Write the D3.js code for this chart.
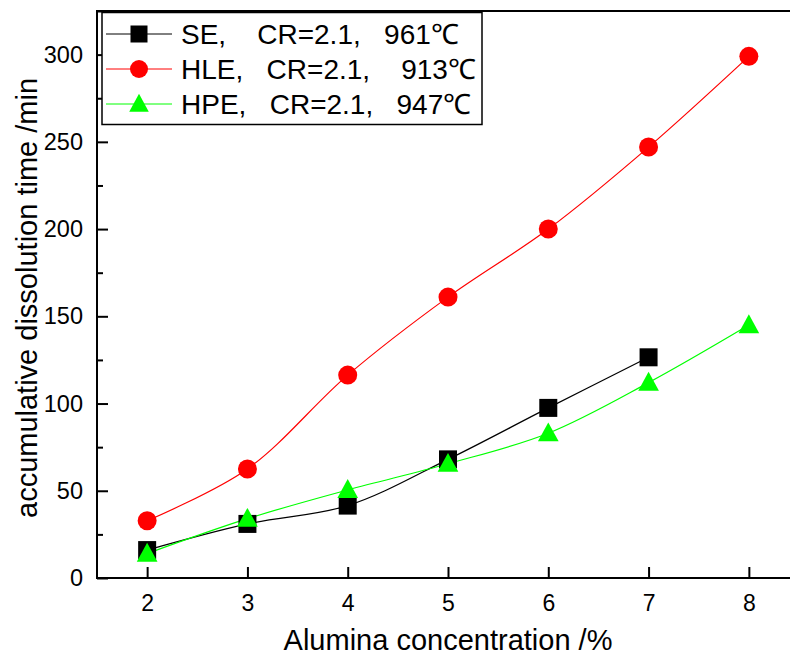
<!DOCTYPE html>
<html><head><meta charset="utf-8">
<script src="https://cdn.jsdelivr.net/npm/d3@7"></script>
<style>body{margin:0;background:#fff}svg{display:block}text{font-family:Arial,"Liberation Sans",sans-serif}</style>
</head><body>
<svg id="c" width="790" height="659"></svg>
<script>
const xValues = [2, 3, 4, 5, 6, 7, 8];
const seValues = [16, 31, 41.5, 68, 97.5, 126.5];
const hleValues = [32.8, 62.5, 116.3, 161, 200, 247, 299];
const hpeValues = [14, 34, 50.5, 65.5, 83, 112, 145];
const xTicks = [2, 3, 4, 5, 6, 7, 8];
const yTicks = [0, 50, 100, 150, 200, 250, 300];
const yMinorTicks = [25, 75, 125, 175, 225, 275, 325];
const seriesNames = ["SE,    CR=2.1,   961\u2103", "HLE,   CR=2.1,    913\u2103", "HPE,   CR=2.1,   947\u2103"];

const svg = d3.select("#c");
const L = 97, T = 11, B = 578, R = 799;
const x = d3.scaleLinear().domain([1.5, 8.5]).range([L, R]);
const y = d3.scaleLinear().domain([0, 325]).range([B, T]);

const series = [
  {name: seriesNames[0], vals: seValues, color: "#000000", shape: "square"},
  {name: seriesNames[1], vals: hleValues, color: "#ff0000", shape: "circle"},
  {name: seriesNames[2], vals: hpeValues, color: "#00ff00", shape: "triangle"}
];

// axes
const xAxis = d3.axisBottom(x).tickValues(xTicks).tickSize(-11).tickPadding(17).tickFormat(d3.format("d"));
const gx = svg.append("g").attr("transform", `translate(0,${B})`).call(xAxis);
gx.select(".domain").remove();
gx.selectAll(".tick line").attr("stroke", "#000").attr("stroke-width", 2);
gx.selectAll(".tick text").attr("font-size", 23).attr("fill", "#000");

const yAxis = d3.axisLeft(y).tickValues(yTicks).tickSize(-11).tickPadding(14).tickFormat(d3.format("d"));
const gy = svg.append("g").attr("transform", `translate(${L},0)`).call(yAxis);
gy.select(".domain").remove();
gy.selectAll(".tick line").attr("stroke", "#000").attr("stroke-width", 2);
gy.selectAll(".tick text").attr("font-size", 23.5).attr("fill", "#000");

const yMinor = d3.axisLeft(y).tickValues(yMinorTicks).tickSize(-6).tickFormat("");
const gym = svg.append("g").attr("transform", `translate(${L},0)`).call(yMinor);
gym.select(".domain").remove();
gym.selectAll(".tick line").attr("stroke", "#000").attr("stroke-width", 2);

// frame
svg.append("rect").attr("x", L).attr("y", T).attr("width", R - L).attr("height", B - T)
  .attr("fill", "none").attr("stroke", "#000").attr("stroke-width", 2);

// lines
const line = d3.line().x((d, i) => x(xValues[i])).y(d => y(d)).curve(d3.curveCatmullRom.alpha(0.5));
series.forEach(s => {
  svg.append("path").attr("d", line(s.vals)).attr("fill", "none").attr("stroke", s.color).attr("stroke-width", 1.2);
});

function marker(g, shape, cx, cy, color, sz) {
  if (shape === "square") {
    g.append("rect").attr("x", cx - sz/2).attr("y", cy - sz/2).attr("width", sz).attr("height", sz).attr("fill", color);
  } else if (shape === "circle") {
    g.append("circle").attr("cx", cx).attr("cy", cy).attr("r", sz/2 + 0.5).attr("fill", color);
  } else {
    const h = sz * 1.0, w = sz * 1.15;
    g.append("path").attr("d", `M${cx},${cy - h*0.6}L${cx + w/2},${cy + h*0.45}L${cx - w/2},${cy + h*0.45}Z`).attr("fill", color);
  }
}
series.forEach(s => {
  const g = svg.append("g");
  s.vals.forEach((v, i) => marker(g, s.shape, x(xValues[i]), y(v), s.color, 18));
});

// legend
const lg = svg.append("g");
lg.append("rect").attr("x", 102).attr("y", 12.5).attr("width", 380).attr("height", 112)
  .attr("fill", "#fff").attr("stroke", "#000").attr("stroke-width", 1.5);
const rowY = [34, 69, 104];
series.forEach((s, i) => {
  lg.append("line").attr("x1", 106).attr("x2", 172).attr("y1", rowY[i]).attr("y2", rowY[i])
    .attr("stroke", s.color).attr("stroke-width", 1);
  marker(lg, s.shape, 139, rowY[i], s.color, 17);
  lg.append("text").attr("x", 181).attr("y", rowY[i] + 10).attr("font-size", 28)
    .attr("xml:space", "preserve").style("white-space", "pre").text(s.name);
});

// axis titles
svg.append("text").attr("x", 448).attr("y", 650).attr("text-anchor", "middle").attr("font-size", 29).text("Alumina concentration /%");
svg.append("text").attr("transform", "translate(37,298) rotate(-90)").attr("text-anchor", "middle").attr("font-size", 29)
  .text("accumulative dissolution time /min");
</script>
</body></html>
